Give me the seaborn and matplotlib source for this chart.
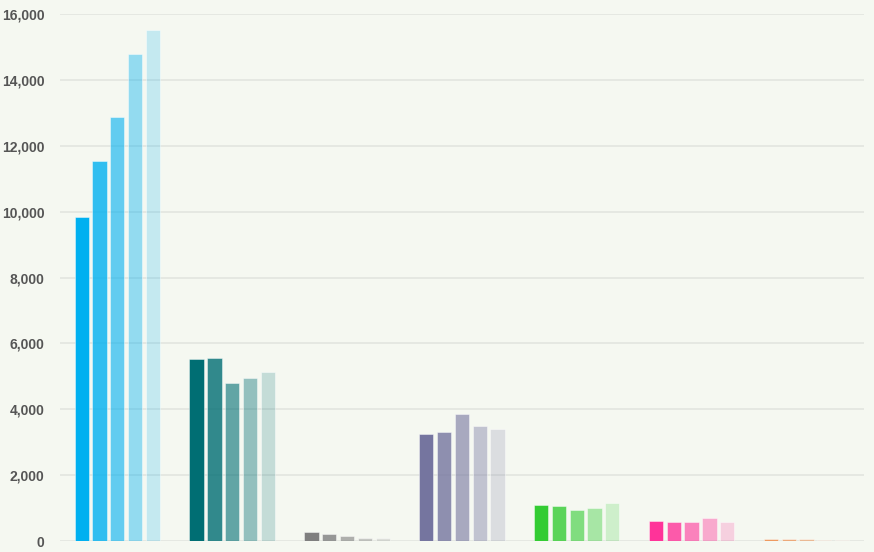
import numpy as np
import pandas as pd
import matplotlib.pyplot as plt
import seaborn as sns
from matplotlib.colors import to_rgba

# Values (7 groups x 5 series)
groups = ['A', 'B', 'C', 'D', 'E', 'F', 'G']
series = ['S1', 'S2', 'S3', 'S4', 'S5']
group_colors = ['#00b0f0', '#006e73', '#7f7f7f', '#75759f', '#33cc33', '#ff3399', '#ee9a60']
series_alpha = [1.0, 0.8, 0.6, 0.4, 0.2]

s1 = [9830, 5527, 265, 3260, 1100, 607, 55]
s2 = [11530, 5548, 215, 3320, 1072, 565, 55]
s3 = [12867, 4798, 152, 3857, 929, 565, 50]
s4 = [14790, 4940, 100, 3502, 1002, 708, 45]
s5 = [15530, 5143, 95, 3401, 1142, 586, 40]

yticks = [0, 2000, 4000, 6000, 8000, 10000, 12000, 14000, 16000]

# Long-form table for seaborn
rows = []
for name, vals in zip(series, [s1, s2, s3, s4, s5]):
    for g, v in zip(groups, vals):
        rows.append({'group': g, 'series': name, 'value': v})
df = pd.DataFrame(rows)

bg = '#f5f8f1'
sns.set_theme(style='white')
plt.rcParams['font.family'] = ['Liberation Sans', 'DejaVu Sans']

fig = plt.figure(figsize=(8.74, 5.52), dpi=100, facecolor=bg)
ax = fig.add_axes([0.0686, 0.0199, 0.9198, 0.9547])
ax.set_facecolor(bg)

sns.barplot(data=df, x='group', y='value', hue='series', order=groups,
            hue_order=series, width=0.775, gap=0.2, legend=False, ax=ax,
            err_kws={'linewidth': 0})

# Each group gets its own colour, each series a fading alpha
for j, cont in enumerate(ax.containers):
    for i, bar in enumerate(cont):
        bar.set_facecolor(to_rgba(group_colors[i], series_alpha[j]))
        bar.set_edgecolor((1, 1, 1, 0.5))
        bar.set_linewidth(0.6)

ax.set_ylim(0, 16000)
ax.set_xlim(-0.5, len(groups) - 0.5)
ax.set_yticks(yticks)
ax.set_yticklabels([f'{t:,}' for t in yticks])
ax.set_xticks([])
ax.set_xlabel('')
ax.set_ylabel('')
ax.yaxis.grid(True, color='#e2e5e0', linewidth=1.2)
ax.set_axisbelow(True)
for sp in ax.spines.values():
    sp.set_visible(False)
ax.tick_params(axis='y', length=0, pad=11, labelsize=10, labelcolor='#555555')
for lab in ax.get_yticklabels():
    lab.set_fontweight('bold')

fig.savefig('out.png', dpi=100, facecolor=bg)
